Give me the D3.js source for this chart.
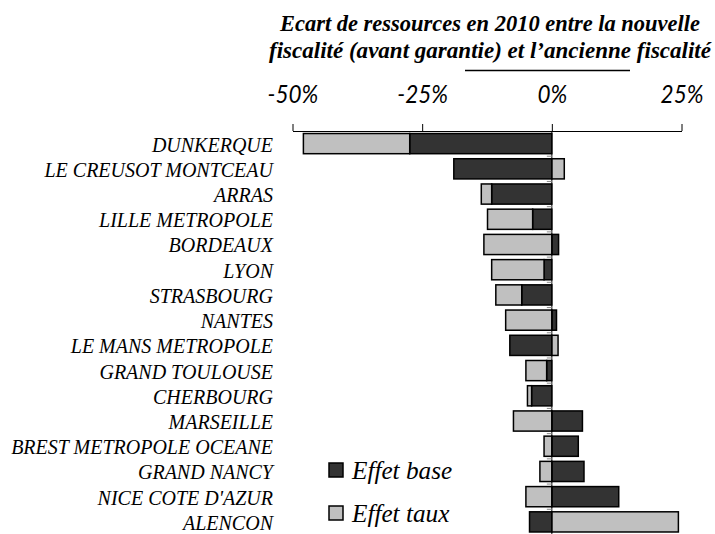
<!DOCTYPE html>
<html><head><meta charset="utf-8">
<script src="https://cdn.jsdelivr.net/npm/d3@7"></script>
<style>body{margin:0;background:#fff}</style>
</head><body>
<svg id="c" width="715" height="534"></svg>
<script>
const categories = ["DUNKERQUE","LE CREUSOT MONTCEAU","ARRAS","LILLE METROPOLE","BORDEAUX","LYON","STRASBOURG","NANTES","LE MANS METROPOLE","GRAND TOULOUSE","CHERBOURG","MARSEILLE","BREST METROPOLE OCEANE","GRAND NANCY","NICE COTE D'AZUR","ALENCON"];
const effetBase = [-27.4, -18.9, -11.6, -3.7, 1.3, -1.5, -5.8, 0.9, -8.1, -1.0, -3.9, 5.9, 5.1, 6.2, 12.9, -4.3];
const effetTaux = [-20.5, 2.4, -2.0, -8.7, -13.1, -10.1, -5.0, -8.9, 1.2, -4.0, -0.8, -7.4, -1.5, -2.3, -5.0, 24.4];
const seriesNames = ["Effet base","Effet taux"];
const tickValues = [-50, -25, 0, 25];
const titleLines = ["Ecart de ressources en 2010 entre la nouvelle","fiscalité (avant garantie) et l’ancienne fiscalité"];

const colors = {"Effet base":"#333333","Effet taux":"#c0c0c0"};
const svg = d3.select("#c");
const serif = "'Liberation Serif', serif";
const sans = "Lato, 'Liberation Sans', sans-serif";

const rows = categories.map((c,i)=>({cat:c,"Effet base":effetBase[i],"Effet taux":effetTaux[i]}));
const stack = d3.stack().keys(seriesNames).offset(d3.stackOffsetDiverging)(rows);

const x = d3.scaleLinear().domain([-50,25]).range([292.5,681.5]);
const y = d3.scaleBand().domain(categories).range([131,534.5]).paddingInner(0.2).paddingOuter(0.1);

function condense(sel, k){
  sel.each(function(){
    const w = this.getComputedTextLength();
    d3.select(this).attr("textLength", w*k).attr("lengthAdjust","spacingAndGlyphs");
  });
}

// title
svg.append("g").selectAll("text").data(titleLines).join("text")
  .attr("x",490).attr("y",(d,i)=>31+i*27)
  .attr("text-anchor","middle")
  .attr("font-family",serif).attr("font-style","italic").attr("font-weight","bold")
  .attr("font-size",22.5).attr("fill","#000")
  .attr("textLength",(d,i)=>i===0?420:442).attr("lengthAdjust","spacingAndGlyphs")
  .text(d=>d);
svg.append("line").attr("x1",465).attr("x2",630).attr("y1",70.5).attr("y2",70.5)
  .attr("stroke","#000").attr("stroke-width",1.5);

// axis
const axis = d3.axisTop(x).tickValues(tickValues).tickFormat(d=>d+"%").tickSize(7).tickSizeOuter(0).tickPadding(21);
const ag = svg.append("g").attr("transform","translate(0,131)").call(axis);
ag.select(".domain").attr("stroke","#000").attr("stroke-width",1);
ag.selectAll(".tick line").attr("stroke","#000");
ag.selectAll(".tick text").attr("font-family",sans).attr("font-style","italic")
  .attr("font-size",25).attr("fill","#000");
ag.selectAll(".tick text").call(condense, 0.9);

// bars
const g = svg.append("g");
g.selectAll("g.s").data(stack).join("g").attr("class","s")
  .attr("fill",d=>colors[d.key])
  .selectAll("rect").data(d=>d).join("rect")
  .attr("x",d=>x(Math.min(d[0],d[1])))
  .attr("width",d=>Math.abs(x(d[1])-x(d[0])))
  .attr("y",d=>y(d.data.cat))
  .attr("height",y.bandwidth())
  .attr("stroke","#000").attr("stroke-width",1.5);

// zero line and category ticks
svg.append("line").attr("x1",x(0)).attr("x2",x(0)).attr("y1",131).attr("y2",534)
  .attr("stroke","#000").attr("stroke-width",1);
svg.append("g").selectAll("line").data(categories.slice(1)).join("line")
  .attr("x1",x(0)-5).attr("x2",x(0)).attr("y1",d=>y(d)-y.step()*y.paddingInner()/2).attr("y2",d=>y(d)-y.step()*y.paddingInner()/2)
  .attr("stroke","#888").attr("stroke-width",1);

// category labels
svg.append("g").selectAll("text").data(categories).join("text")
  .attr("x",273).attr("y",d=>y(d)+y.bandwidth()/2+8)
  .attr("text-anchor","end")
  .attr("font-family",serif).attr("font-style","italic").attr("font-size",21.5).attr("fill","#000")
  .text(d=>d)
  .call(condense, 20/21.5);

// legend
const lg = svg.append("g").selectAll("g").data(seriesNames).join("g")
  .attr("transform",(d,i)=>`translate(329,${463+i*43})`);
lg.append("rect").attr("width",14).attr("height",14).attr("fill",d=>colors[d])
  .attr("stroke","#000").attr("stroke-width",1.5);
lg.append("text").attr("x",23).attr("y",16)
  .attr("font-family",serif).attr("font-style","italic").attr("font-size",26).attr("fill","#000")
  .text(d=>d)
  .call(condense, 0.97);
</script>
</body></html>
